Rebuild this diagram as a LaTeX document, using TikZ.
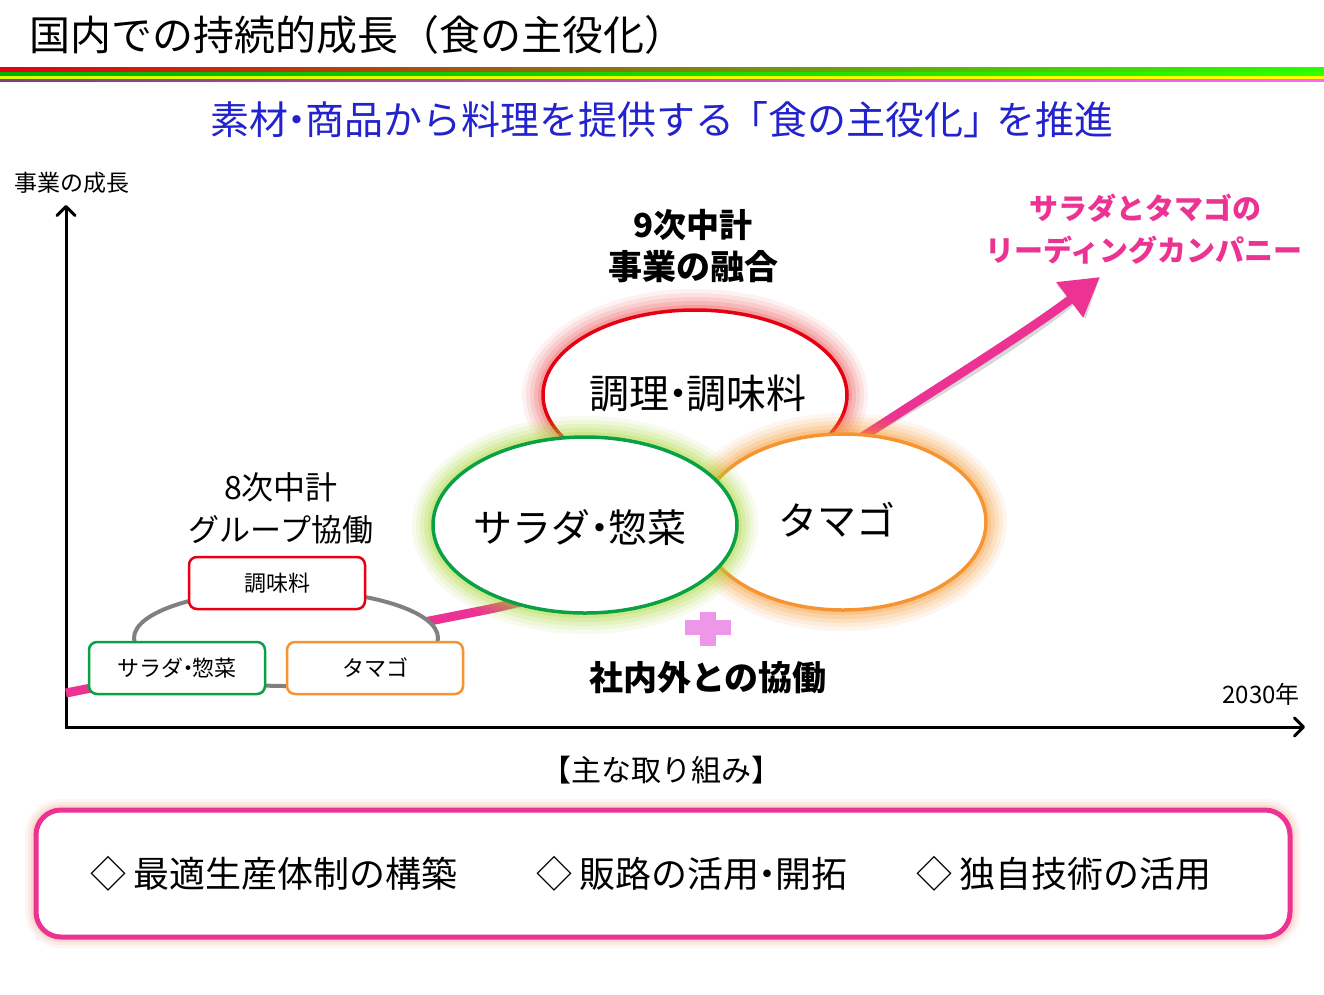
\documentclass[tikz,border=0pt]{standalone}
\usepackage{fontspec}
\setmainfont{Noto Sans CJK JP}
\usetikzlibrary{arrows.meta,shapes.geometric}
\definecolor{redc}{RGB}{230,0,18}
\definecolor{greenc}{RGB}{10,160,70}
\definecolor{orangec}{RGB}{247,148,50}
\definecolor{pinkc}{RGB}{236,50,146}
\definecolor{bluec}{RGB}{35,35,205}
\definecolor{plusc}{RGB}{238,150,232}
\definecolor{grayc}{RGB}{128,128,128}
\definecolor{redglow}{RGB}{240,80,80}
\definecolor{greenglow}{RGB}{165,215,40}
\definecolor{orangeglow}{RGB}{250,150,40}
\definecolor{boxglow}{RGB}{245,150,120}
\newcommand\myglow[5]{%
  \foreach \w/\o in {42/0.08,34/0.10,26/0.13,18/0.17,10/0.22}{%
    \draw[#5, line width=\w pt, opacity=\o] (#1,#2) ellipse [x radius=#3pt, y radius=#4pt];}}
\newcommand\nd{\hspace{-0.28em}・\hspace{-0.28em}}
\tikzset{
  txt/.style={inner sep=0pt, font=\fontsize{#1}{#1}\selectfont},
  btxt/.style={inner sep=0pt, font=\fontsize{#1}{#1}\selectfont\bfseries},
  smallbox/.style={draw=#1, line width=2.5pt, rounded corners=8pt, fill=white,
    minimum width=176pt, minimum height=52pt, inner sep=0pt, font=\fontsize{22}{22}\selectfont},
  bigell/.style={ellipse, draw=#1, line width=3.5pt, fill=white, inner sep=0pt},
  axisline/.style={line width=3pt, -{Straight Barb[length=9pt,width=18pt,round]}},
}
\begin{document}
\begin{tikzpicture}[x=1pt,y=-1pt]
\useasboundingbox (0,0) rectangle (1324,994);
\fill[white] (0,0) rectangle (1324,994);

% title and rainbow bar
\node[txt=41, anchor=west] (title) at (29,35) {国内での持続的成長（食の主役化）};
\shade[left color=redc, middle color=red, right color=green!85!yellow] (0,67) rectangle (1324,72.5);
\shade[left color=green!70!black, right color=green!80!yellow] (0,72.5) rectangle (1324,76);
\shade[left color=yellow!85!green, right color=yellow] (0,76) rectangle (1324,79);
\shade[left color=violet!50!gray, middle color=blue!70, right color=magenta!60] (0,79) rectangle (1324,81.5);

\node[txt=39, text=bluec] (sub) at (662,120) {素材\nd 商品から料理を提供する\hspace{-0.15em}「食の主役化」\hspace{-0.15em}を推進};

% axes
\coordinate (O) at (66,727);
\coordinate (ytop) at (66,205);
\coordinate (xend) at (1305,727);
\draw[axisline] (O) -- (ytop);
\draw[axisline] ([xshift=-1.5pt]O) -- (xend);
\node[txt=23] (ylab) at (72,183) {事業の成長};
\node[txt=24] (year) at (1261,694) {2030年};

% pink growth curve
\coordinate (p0) at (66,693);
\coordinate (p1) at (480,611);
\coordinate (p2) at (873,430);
\coordinate (p3) at (1100,277);
\draw[black!50, opacity=0.3, line width=9pt, -{Triangle[length=38pt,width=42pt]}, shift={(3,4)}]
  (p0) -- (p1) .. controls (650,577) and (780,490) .. (p2) .. controls (950,380) and (1030,330) .. (p3);
\draw[pinkc, line width=9pt, -{Triangle[length=38pt,width=42pt]}]
  (p0) -- (p1) .. controls (650,577) and (780,490) .. (p2) .. controls (950,380) and (1030,330) .. (p3);

% 8th plan group
\node[ellipse, draw=grayc, line width=4pt, fill=white, minimum width=304pt, minimum height=96pt] (ring) at (286,638) {};
\node[smallbox=redc] (b1) at (277,583) {調味料};
\node[smallbox=greenc] (b2) at (177,668) {サラダ\nd 惣菜};
\node[smallbox=orangec] (b3) at (375,668) {タマゴ};
\node[txt=32] (p8a) at (281,487) {8次中計};
\node[txt=31] (p8b) at (281,530) {グループ協働};

% plus sign
\fill[plusc] (685,620) rectangle (731,635);
\fill[plusc] (700,612) rectangle (716,646);

% big ellipses
\myglow{695}{395}{152}{85}{redglow}
\node[bigell=redc, minimum width=304pt, minimum height=170pt] (e1) at (695,395) {};
\node[txt=40] (t1) at (698,393) {調理\nd 調味料};
\myglow{843}{522}{143}{88}{orangeglow}
\node[bigell=orangec, minimum width=286pt, minimum height=176pt] (e3) at (843,522) {};
\node[txt=39] (t3) at (837,520) {タマゴ};
\myglow{585}{525}{152}{88}{greenglow}
\node[bigell=greenc, minimum width=304pt, minimum height=176pt] (e2) at (585,525) {};
\node[txt=39] (t2) at (580,528) {サラダ\nd 惣菜};

\node[btxt=33] (p9a) at (693,225) {9次中計};
\node[btxt=34] (p9b) at (693,267) {事業の融合};
\node[btxt=34] (collab) at (708,678) {社内外との協働};
\node[btxt=29, text=pinkc] (goal1) at (1145,208) {サラダとタマゴの};
\node[btxt=29, text=pinkc] (goal2) at (1144,250) {リーディングカンパニー};

% main initiatives
\node[txt=30] (init) at (661,770) {【主な取り組み】};
\foreach \w/\o in {22/0.08,16/0.12,10/0.18}{
  \draw[boxglow, line width=\w pt, opacity=\o, rounded corners=25pt] (36,810) rectangle (1290,937);}
\node[draw=pinkc, line width=5pt, rounded corners=25pt, fill=white,
  minimum width=1254pt, minimum height=127pt, inner sep=0pt] (box) at (663,873.5) {};
\node[txt=36, anchor=west] (i1) at (90,874) {◇\hspace{0.2em}最適生産体制の構築};
\node[txt=36, anchor=west] (i2) at (536,874) {◇\hspace{0.2em}販路の活用\nd 開拓};
\node[txt=36, anchor=west] (i3) at (916,874) {◇\hspace{0.2em}独自技術の活用};
\end{tikzpicture}
\end{document}
